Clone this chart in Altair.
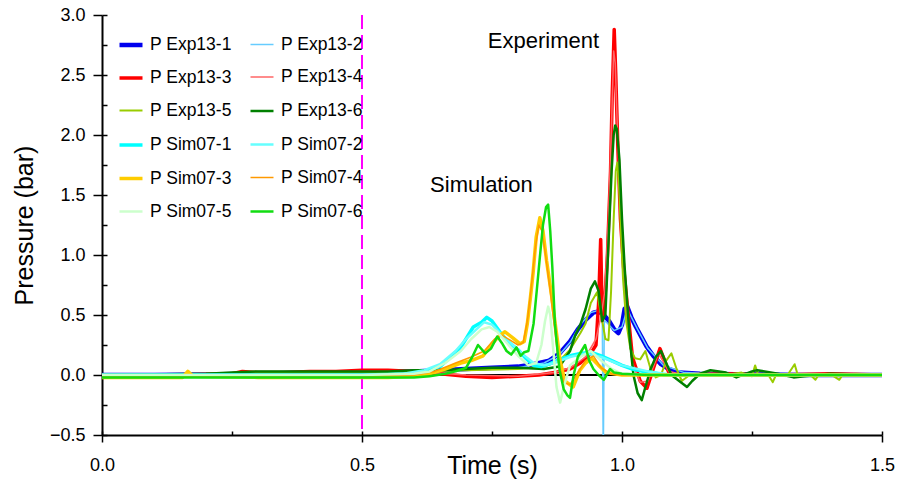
import altair as alt
import pandas as pd

# ---------------- data ----------------
series_names = ["P Exp13-1", "P Exp13-2", "P Exp13-3", "P Exp13-4", "P Exp13-5", "P Exp13-6",
                "P Sim07-1", "P Sim07-2", "P Sim07-3", "P Sim07-4", "P Sim07-5", "P Sim07-6"]
series_colors = ["#0000ee", "#66ccff", "#ff0000", "#ff6666", "#99cc00", "#008000",
                 "#00ffff", "#66ffff", "#ffcc00", "#ff9900", "#ccffcc", "#11dd11"]
series_widths = [4.5, 1.5, 3.5, 1.5, 2, 2.5, 3.5, 2.5, 3.5, 1.5, 2.5, 2.5]

exp1_t = [0, 0.1, 0.2, 0.3, 0.4, 0.45, 0.5, 0.55, 0.6, 0.65, 0.7, 0.75, 0.8, 0.83, 0.86, 0.88, 0.9, 0.915,
          0.93, 0.945, 0.955, 0.965, 0.975, 0.985, 0.993, 1.0, 1.005, 1.01, 1.018, 1.027, 1.037, 1.047,
          1.06, 1.075, 1.09, 1.11, 1.15, 1.25, 1.35, 1.5]
exp1_p = [0.0, 0.0, 0.005, 0.01, 0.02, 0.02, 0.02, 0.03, 0.03, 0.04, 0.05, 0.06, 0.07, 0.09, 0.12, 0.18,
          0.28, 0.38, 0.46, 0.52, 0.53, 0.5, 0.45, 0.38, 0.35, 0.42, 0.55, 0.57, 0.48, 0.4, 0.32, 0.24,
          0.16, 0.09, 0.05, 0.02, 0.01, 0.005, 0.0, 0.0]

exp2_t = [0, 0.2, 0.4, 0.5, 0.6, 0.7, 0.8, 0.85, 0.88, 0.9, 0.92, 0.94, 0.955, 0.962, 0.964, 0.966,
          0.97, 0.985, 1.0, 1.01, 1.03, 1.05, 1.08, 1.12, 1.3, 1.5]
exp2_p = [0.0, 0.0, 0.01, 0.02, 0.03, 0.04, 0.06, 0.1, 0.17, 0.27, 0.42, 0.52, 0.54, 0.5, -0.7, 0.45,
          0.44, 0.37, 0.4, 0.55, 0.38, 0.22, 0.08, 0.02, 0.0, 0.0]

exp3_t = [0, 0.15, 0.25, 0.27, 0.3, 0.35, 0.4, 0.45, 0.5, 0.55, 0.6, 0.65, 0.7, 0.75, 0.8, 0.84, 0.87,
          0.9, 0.92, 0.94, 0.95, 0.955, 0.959, 0.962, 0.966, 0.972, 0.978, 0.981, 0.985, 0.988, 0.992,
          0.997, 1.003, 1.012, 1.02, 1.035, 1.048, 1.06, 1.073, 1.082, 1.09, 1.11, 1.2, 1.3, 1.4, 1.5]
exp3_p = [0.0, 0.0, 0.01, 0.03, 0.02, 0.02, 0.03, 0.03, 0.04, 0.04, 0.03, 0.01, -0.01, -0.02, -0.01,
          0.0, 0.02, 0.05, 0.1, 0.18, 0.25, 0.6, 1.13, 0.45, 0.55, 1.0, 1.7, 2.3, 2.88, 2.5, 1.9, 1.3,
          0.9, 0.5, 0.15, -0.05, -0.11, 0.05, 0.22, 0.12, 0.02, 0.0, 0.01, 0.0, 0.01, 0.0]

exp4_t = [0, 0.2, 0.3, 0.4, 0.5, 0.6, 0.7, 0.8, 0.87, 0.9, 0.93, 0.95, 0.96, 0.967, 0.974, 0.98, 0.984,
          0.987, 0.99, 0.995, 1.0, 1.01, 1.02, 1.035, 1.05, 1.07, 1.09, 1.12, 1.3, 1.5]
exp4_p = [0.0, 0.01, 0.02, 0.02, 0.03, 0.03, 0.0, -0.01, 0.02, 0.06, 0.15, 0.3, 0.5, 0.7, 1.3, 2.1, 2.7,
          2.6, 2.2, 1.6, 1.0, 0.45, 0.1, -0.06, -0.05, 0.18, 0.03, 0.0, 0.0, 0.0]

exp5_t = [0, 0.2, 0.4, 0.5, 0.6, 0.7, 0.8, 0.85, 0.88, 0.9, 0.92, 0.93, 0.94, 0.952, 0.96, 0.968, 0.974,
          0.979, 0.984, 0.988, 0.991, 0.994, 0.998, 1.002, 1.008, 1.016, 1.025, 1.035, 1.045, 1.055,
          1.065, 1.075, 1.085, 1.095, 1.105, 1.115, 1.13, 1.16, 1.2, 1.23, 1.25, 1.256, 1.262, 1.28,
          1.29, 1.296, 1.32, 1.332, 1.338, 1.36, 1.372, 1.378, 1.4, 1.418, 1.424, 1.45, 1.5]
exp5_p = [0.0, 0.01, 0.02, 0.02, 0.03, 0.04, 0.05, 0.07, 0.12, 0.21, 0.35, 0.43, 0.6, 0.69, 0.5, 0.3,
          0.29, 0.7, 1.3, 1.7, 1.77, 1.6, 1.2, 0.8, 0.45, 0.22, 0.14, 0.13, 0.2, 0.05, -0.02, 0.0, 0.12,
          0.18, 0.05, -0.05, 0.0, 0.01, 0.0, 0.02, -0.01, 0.08, 0.0, 0.01, -0.06, 0.0, 0.01, 0.09, 0.0,
          0.01, -0.04, 0.0, 0.01, -0.04, 0.0, 0.01, 0.0]

exp6_t = [0, 0.2, 0.25, 0.3, 0.4, 0.5, 0.55, 0.6, 0.65, 0.7, 0.75, 0.8, 0.85, 0.88, 0.9, 0.91, 0.92,
          0.93, 0.94, 0.948, 0.955, 0.962, 0.968, 0.975, 0.98, 0.984, 0.987, 0.99, 0.995, 1.0, 1.005,
          1.01, 1.015, 1.022, 1.03, 1.038, 1.045, 1.055, 1.065, 1.075, 1.085, 1.095, 1.11, 1.125, 1.135,
          1.15, 1.17, 1.2, 1.22, 1.25, 1.26, 1.3, 1.33, 1.35, 1.4, 1.5]
exp6_p = [0.0, 0.01, 0.02, 0.03, 0.03, 0.03, 0.03, 0.04, 0.04, 0.05, 0.06, 0.06, 0.05, 0.07, 0.2, 0.33,
          0.42, 0.55, 0.72, 0.78, 0.7, 0.45, 0.5, 1.2, 1.7, 2.0, 2.08, 2.05, 1.8, 1.3, 0.9, 0.6, 0.3,
          0.0, -0.15, -0.21, -0.1, 0.05, 0.15, 0.2, 0.1, 0.0, -0.05, -0.1, -0.05, 0.01, 0.04, 0.02,
          -0.02, 0.03, 0.04, 0.01, -0.02, -0.01, 0.01, 0.0]

sim1_t = [0, 0.2, 0.4, 0.5, 0.55, 0.6, 0.62, 0.65, 0.67, 0.69, 0.714, 0.73, 0.74, 0.75, 0.765, 0.78,
          0.8, 0.815, 0.83, 0.845, 0.86, 0.875, 0.9, 0.92, 0.94, 0.96, 0.98, 1.0, 1.02, 1.04, 1.06,
          1.08, 1.1, 1.2, 1.3, 1.5]
sim1_p = [0.0, 0.0, 0.0, 0.0, 0.005, 0.01, 0.03, 0.07, 0.15, 0.23, 0.4, 0.44, 0.48, 0.45, 0.36, 0.28,
          0.21, 0.14, 0.08, 0.07, 0.09, 0.12, 0.16, 0.18, 0.19, 0.16, 0.12, 0.08, 0.05, 0.03, 0.02,
          0.0, 0.0, 0.0, 0.0, 0.0]

sim2_t = [0, 0.3, 0.5, 0.58, 0.62, 0.65, 0.68, 0.7, 0.72, 0.735, 0.75, 0.77, 0.79, 0.81, 0.83, 0.85,
          0.87, 0.9, 0.93, 0.96, 1.0, 1.05, 1.1, 1.5]
sim2_p = [0.0, 0.0, 0.0, 0.01, 0.04, 0.09, 0.2, 0.3, 0.38, 0.44, 0.42, 0.33, 0.25, 0.17, 0.1, 0.08,
          0.1, 0.15, 0.18, 0.15, 0.08, 0.03, 0.0, 0.0]

sim3_t = [0, 0.1, 0.155, 0.165, 0.175, 0.3, 0.45, 0.5, 0.55, 0.6, 0.63, 0.66, 0.69, 0.71, 0.733, 0.75,
          0.765, 0.775, 0.79, 0.804, 0.812, 0.818, 0.824, 0.829, 0.835, 0.842, 0.848, 0.855, 0.865,
          0.873, 0.881, 0.89, 0.906, 0.919, 0.93, 0.942, 0.955, 0.97, 1.0, 1.05, 1.5]
sim3_p = [-0.02, -0.02, -0.02, 0.03, -0.01, -0.02, -0.02, -0.02, -0.02, -0.01, 0.01, 0.05, 0.1, 0.12,
          0.16, 0.26, 0.33, 0.36, 0.31, 0.26, 0.28, 0.43, 0.65, 0.85, 1.15, 1.31, 1.2, 0.95, 0.65,
          0.38, 0.12, -0.05, -0.1, 0.04, 0.1, 0.14, 0.08, 0.02, 0.0, 0.0, 0.0]

sim4_t = [0, 0.3, 0.5, 0.6, 0.64, 0.68, 0.71, 0.735, 0.755, 0.77, 0.785, 0.8, 0.81, 0.818, 0.826, 0.833,
          0.84, 0.846, 0.853, 0.862, 0.87, 0.878, 0.888, 0.9, 0.915, 0.93, 0.945, 0.96, 0.98, 1.0, 1.5]
sim4_p = [-0.01, -0.01, -0.01, 0.0, 0.03, 0.1, 0.15, 0.2, 0.3, 0.33, 0.29, 0.25, 0.27, 0.45, 0.75, 1.05,
          1.25, 1.2, 1.0, 0.7, 0.4, 0.1, -0.06, -0.08, 0.02, 0.12, 0.16, 0.06, 0.01, 0.0, 0.0]

sim5_t = [0, 0.3, 0.5, 0.6, 0.63, 0.66, 0.69, 0.71, 0.73, 0.745, 0.76, 0.78, 0.8, 0.82, 0.835, 0.845,
          0.852, 0.858, 0.862, 0.868, 0.874, 0.881, 0.888, 0.9, 0.92, 0.94, 0.96, 0.98, 1.0, 1.05, 1.5]
sim5_p = [0.0, 0.0, 0.0, 0.01, 0.03, 0.1, 0.2, 0.3, 0.38, 0.4, 0.36, 0.26, 0.16, 0.08, 0.1, 0.25, 0.45,
          0.57, 0.5, 0.2, -0.1, -0.23, -0.1, 0.08, 0.15, 0.2, 0.12, 0.05, 0.01, 0.0, 0.0]

sim6_t = [0, 0.1, 0.3, 0.5, 0.6, 0.63, 0.66, 0.68, 0.7, 0.712, 0.723, 0.737, 0.748, 0.76, 0.77, 0.778,
          0.787, 0.797, 0.805, 0.812, 0.82, 0.83, 0.836, 0.842, 0.848, 0.854, 0.858, 0.862, 0.866,
          0.871, 0.876, 0.88, 0.888, 0.895, 0.9, 0.907, 0.915, 0.922, 0.929, 0.937, 0.945, 0.955,
          0.965, 0.977, 0.985, 1.0, 1.05, 1.1, 1.5]
sim6_p = [-0.02, -0.02, -0.02, -0.02, -0.02, -0.01, 0.01, 0.03, 0.06, 0.15, 0.25, 0.18, 0.22, 0.32,
          0.26, 0.2, 0.17, 0.23, 0.16, 0.19, 0.2, 0.43, 0.7, 0.98, 1.25, 1.4, 1.42, 1.2, 0.9, 0.43,
          0.2, 0.04, -0.12, -0.17, -0.19, 0.0, 0.15, 0.2, 0.25, 0.12, 0.05, 0.0, -0.04, 0.05, 0.02,
          0.01, 0.0, 0.0, 0.0]

x_major_ticks = [0.0, 0.5, 1.0, 1.5]
x_minor_ticks = [0.0, 0.25, 0.5, 0.75, 1.0, 1.25, 1.5]
y_major_ticks = [-0.5, 0.0, 0.5, 1.0, 1.5, 2.0, 2.5, 3.0]
y_minor_ticks = [-0.5, -0.25, 0.0, 0.25, 0.5, 0.75, 1.0, 1.25, 1.5, 1.75, 2.0, 2.25, 2.5, 2.75, 3.0]
marker_time = [0.5]
zero_level = [0.0]
annot_text = ["Simulation", "Experiment"]
annot_t = [0.631, 0.742]
annot_p = [1.525, 2.725]

# ---------------- build table ----------------
all_series = [(exp1_t, exp1_p), (exp2_t, exp2_p), (exp3_t, exp3_p), (exp4_t, exp4_p),
              (exp5_t, exp5_p), (exp6_t, exp6_p), (sim1_t, sim1_p), (sim2_t, sim2_p),
              (sim3_t, sim3_p), (sim4_t, sim4_p), (sim5_t, sim5_p), (sim6_t, sim6_p)]
rows = []
for name, (ts, ps) in zip(series_names, all_series):
    for i, (t, p) in enumerate(zip(ts, ps)):
        rows.append({"series": name, "t": t, "p": p, "i": i})
df = pd.DataFrame(rows)

FONT = "Liberation Sans"
xscale = alt.Scale(domain=[0, 1.5], nice=False, zero=False)
yscale = alt.Scale(domain=[-0.5, 3.0], nice=False, zero=False)

leg = alt.Legend(title=None, orient="none", legendX=15, legendY=16, columns=2, direction="horizontal",
                 symbolType="stroke", symbolSize=529, labelFontSize=17.5, labelFont=FONT,
                 labelColor="black", rowPadding=10.5, columnPadding=13, labelOffset=5,
                 padding=0, gridAlign="all")

lines = alt.Chart(df).mark_line(clip=True, strokeJoin="round").encode(
    x=alt.X("t:Q", scale=xscale,
            axis=alt.Axis(orient="bottom", values=x_major_ticks, format=".1f", tickSize=7, tickWidth=1.5,
                          tickColor="black", domainColor="black", domainWidth=2,
                          labelFontSize=18, labelFont=FONT, labelColor="black", labelPadding=14,
                          labelFlush=False, grid=False, title="Time (s)", titleFontSize=25,
                          titleFont=FONT, titleFontWeight="normal", titleColor="black",
                          titleY=38, titleBaseline="alphabetic")),
    y=alt.Y("p:Q", scale=yscale,
            axis=alt.Axis(orient="left", values=y_major_ticks, format=".1f", tickSize=9, tickWidth=1.5,
                          tickColor="black", domainColor="black", domainWidth=2,
                          labelFontSize=18, labelFont=FONT, labelColor="black", labelPadding=8,
                          labelFlush=False, grid=False, title="Pressure (bar)", titleFontSize=25,
                          titleFont=FONT, titleFontWeight="normal", titleColor="black",
                          titleX=-70, titleBaseline="alphabetic")),
    color=alt.Color("series:N", scale=alt.Scale(domain=series_names, range=series_colors), legend=leg),
    strokeWidth=alt.StrokeWidth("series:N",
                                scale=alt.Scale(type="ordinal", domain=series_names, range=series_widths),
                                legend=leg),
    order="i:Q",
)

zero_df = pd.DataFrame({"y0": zero_level})
zero_rule = alt.Chart(zero_df).mark_rule(color="black", strokeWidth=2).encode(
    y=alt.Y("y0:Q", scale=yscale,
            axis=alt.Axis(orient="left", values=y_minor_ticks, tickSize=5, tickWidth=1.5,
                          tickColor="black", offset=-5, labels=False, domain=False,
                          grid=False, title=None))
)

marker_df = pd.DataFrame({"x0": marker_time})
marker_rule = alt.Chart(marker_df).mark_rule(color="#ff00ff", strokeWidth=2, strokeDash=[14, 6]).encode(
    x=alt.X("x0:Q", scale=xscale,
            axis=alt.Axis(orient="bottom", values=x_minor_ticks, tickSize=4, tickWidth=1.5,
                          tickColor="black", offset=-4, labels=False, domain=False,
                          grid=False, title=None))
)

annot_df = pd.DataFrame({"label": annot_text, "t": annot_t, "p": annot_p})
annots = alt.Chart(annot_df).mark_text(align="left", baseline="alphabetic", fontSize=22,
                                        font=FONT, color="black").encode(
    x=alt.X("t:Q", scale=xscale, axis=None),
    y=alt.Y("p:Q", scale=yscale, axis=None),
    text="label:N",
)

chart = alt.layer(zero_rule, marker_rule, lines, annots).resolve_axis(
    x="independent", y="independent"
).properties(
    width=780, height=420, autosize="none",
    padding={"left": 102, "top": 15, "right": 15, "bottom": 46},
    background="white",
).configure_view(stroke=None)

chart.save("out.html", embed_options={"renderer": "svg", "actions": False})
